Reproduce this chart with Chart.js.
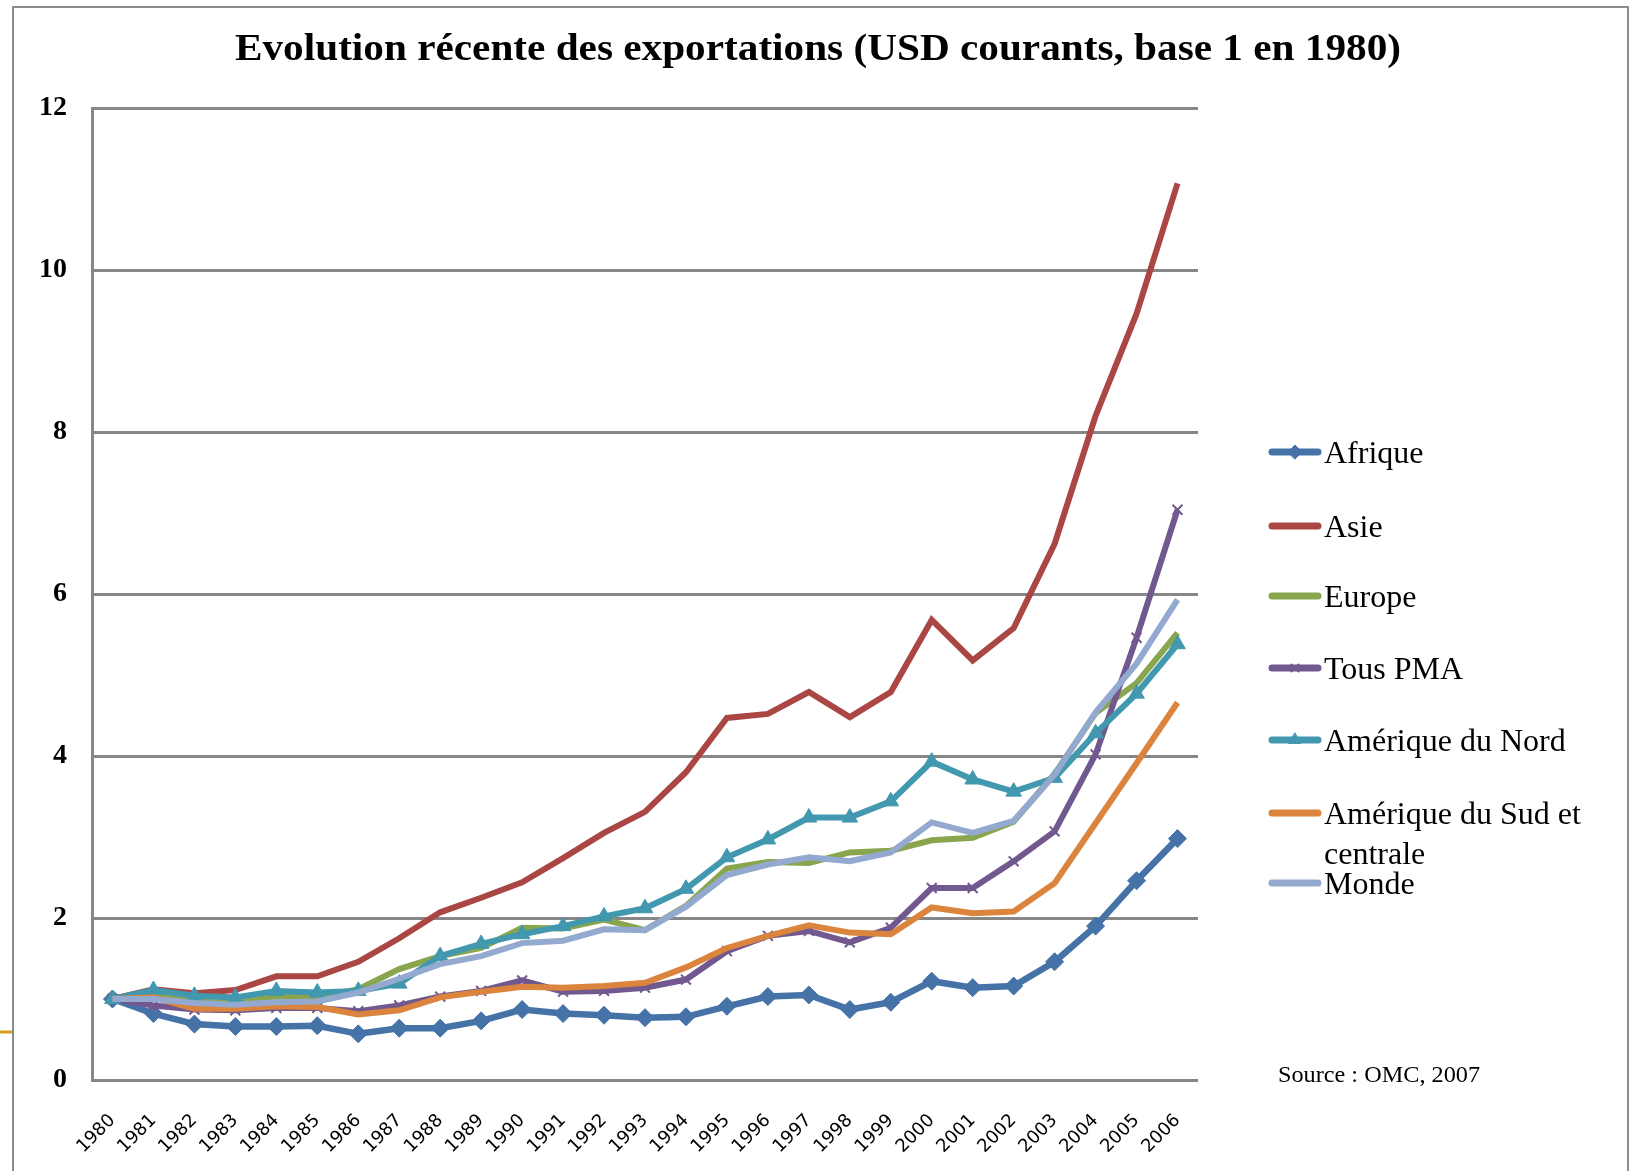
<!DOCTYPE html>
<html>
<head>
<meta charset="utf-8">
<script src="https://cdn.jsdelivr.net/npm/chart.js@4"></script>
<style>
  html, body { margin: 0; padding: 0; background: #fff; }
  #wrap { width: 1631px; height: 1171px; }
</style>
</head>
<body>
<div id="wrap"><canvas id="chart" width="1631" height="1171"></canvas></div>
<script>
// Evolution récente des exportations, base 1 en 1980 (source OMC 2007)
const years = ['1980', '1981', '1982', '1983', '1984', '1985', '1986', '1987', '1988', '1989',
  '1990', '1991', '1992', '1993', '1994', '1995', '1996', '1997', '1998', '1999',
  '2000', '2001', '2002', '2003', '2004', '2005', '2006'];

const afrique = [1.00, 0.82, 0.69, 0.66, 0.66, 0.67, 0.57, 0.64, 0.64, 0.73, 0.87, 0.82, 0.80, 0.77,
  0.78, 0.91, 1.03, 1.05, 0.87, 0.96, 1.22, 1.14, 1.16, 1.46, 1.90, 2.46, 2.98];
const asie = [1.00, 1.12, 1.07, 1.11, 1.28, 1.28, 1.46, 1.75, 2.07, 2.25, 2.44, 2.74, 3.05, 3.31,
  3.80, 4.47, 4.52, 4.79, 4.48, 4.79, 5.68, 5.18, 5.58, 6.62, 8.20, 9.46, 11.07];
const europe = [1.00, 1.05, 0.97, 0.95, 1.03, 1.02, 1.12, 1.37, 1.53, 1.63, 1.88, 1.87, 1.98, 1.85,
  2.15, 2.61, 2.69, 2.68, 2.81, 2.83, 2.96, 2.99, 3.19, 3.78, 4.53, 4.90, 5.52];
const tousPMA = [1.00, 0.92, 0.87, 0.86, 0.89, 0.89, 0.85, 0.92, 1.03, 1.10, 1.23, 1.09, 1.10, 1.14,
  1.24, 1.59, 1.78, 1.84, 1.70, 1.88, 2.37, 2.37, 2.70, 3.07, 4.02, 5.46, 7.04];
const ameriqueNord = [1.00, 1.11, 1.04, 1.02, 1.10, 1.08, 1.10, 1.19, 1.53, 1.68, 1.80, 1.90, 2.02, 2.12,
  2.36, 2.75, 2.97, 3.24, 3.24, 3.44, 3.93, 3.71, 3.56, 3.73, 4.28, 4.77, 5.38];
const ameriqueSud = [1.00, 1.02, 0.88, 0.88, 0.91, 0.90, 0.81, 0.86, 1.02, 1.09, 1.15, 1.14, 1.16, 1.20,
  1.39, 1.63, 1.78, 1.91, 1.82, 1.80, 2.13, 2.06, 2.08, 2.43, 3.17, 3.91, 4.66];
const monde = [1.00, 1.00, 0.95, 0.93, 0.96, 0.97, 1.08, 1.25, 1.43, 1.53, 1.69, 1.72, 1.86, 1.85,
  2.14, 2.53, 2.66, 2.75, 2.70, 2.81, 3.18, 3.05, 3.20, 3.77, 4.54, 5.14, 5.93];

const seriesNames = ['Afrique', 'Asie', 'Europe', 'Tous PMA', 'Amérique du Nord',
  ['Amérique du Sud et', 'centrale'], 'Monde'];
const seriesValues = [afrique, asie, europe, tousPMA, ameriqueNord, ameriqueSud, monde];
const seriesColors = ['#4572A7', '#AA4643', '#89A54E', '#71588F', '#4198AF', '#DB843D', '#93A9CF'];
const seriesMarkers = ['rectRot', false, false, 'crossRot', 'triangle', false, false];

const yTicks = [0, 2, 4, 6, 8, 10, 12];

const titleText = 'Evolution récente des exportations (USD courants, base 1 en 1980)';
const sourceText = 'Source : OMC, 2007';

const SERIF = '"Liberation Serif", "Times New Roman", serif';

// title, frame, legend and source note
const decorations = {
  id: 'decorations',
  beforeDraw(chart) {
    const ctx = chart.ctx;
    ctx.save();
    ctx.strokeStyle = '#8c8c8c';
    ctx.lineWidth = 2;
    ctx.beginPath();
    ctx.moveTo(13, 1171);
    ctx.lineTo(13, 7);
    ctx.lineTo(1628, 7);
    ctx.lineTo(1628, 1171);
    ctx.stroke();
    ctx.strokeStyle = '#D4A017';
    ctx.lineWidth = 3;
    ctx.beginPath();
    ctx.moveTo(0, 1032);
    ctx.lineTo(12, 1032);
    ctx.stroke();
    ctx.restore();
  },
  afterDraw(chart) {
    const ctx = chart.ctx;
    ctx.save();
    // title, squeezed to the width of the original
    ctx.fillStyle = '#000';
    ctx.font = 'bold 38px ' + SERIF;
    ctx.textAlign = 'left';
    ctx.textBaseline = 'alphabetic';
    const w = ctx.measureText(titleText).width;
    ctx.translate(235, 60);
    ctx.scale(1166 / w, 1);
    ctx.fillText(titleText, 0, 0);
    ctx.restore();

    // legend
    ctx.save();
    const legendY = [452, 526, 596, 668, 740, 813, 883];
    ctx.font = '32px ' + SERIF;
    chart.data.datasets.forEach((ds, i) => {
      const y = legendY[i];
      ctx.strokeStyle = ds.borderColor;
      ctx.lineWidth = 7;
      ctx.lineCap = 'round';
      ctx.beginPath();
      ctx.moveTo(1272, y);
      ctx.lineTo(1318, y);
      ctx.stroke();
      if (ds.pointStyle) {
        ctx.fillStyle = ds.borderColor;
        ctx.strokeStyle = ds.borderColor;
        ctx.lineWidth = ds.pointBorderWidth;
        Chart.helpers.drawPoint(ctx, {
          pointStyle: ds.pointStyle,
          radius: ds.pointRadius - 2,
          borderWidth: ds.pointBorderWidth,
          rotation: 0,
        }, 1295, y);
      }
      ctx.fillStyle = '#000';
      const lines = Array.isArray(seriesNames[i]) ? seriesNames[i] : [seriesNames[i]];
      lines.forEach((t, k) => ctx.fillText(t, 1324, y + 11 + k * 40));
    });
    ctx.restore();

    // source note
    ctx.save();
    ctx.font = '24px ' + SERIF;
    ctx.fillStyle = '#000';
    const sw = ctx.measureText(sourceText).width;
    ctx.translate(1278, 1082);
    ctx.scale(202 / sw, 1);
    ctx.fillText(sourceText, 0, 0);
    ctx.restore();
  },
};

const datasets = seriesValues.map((vals, i) => ({
  label: Array.isArray(seriesNames[i]) ? seriesNames[i].join(' ') : seriesNames[i],
  data: vals,
  borderColor: seriesColors[i],
  backgroundColor: seriesColors[i],
  borderWidth: i === 0 ? 6.5 : 6,
  tension: 0,
  pointStyle: seriesMarkers[i],
  pointRadius: seriesMarkers[i] ? (seriesMarkers[i] === 'crossRot' ? 7 : 9) : 0,
  pointBorderWidth: seriesMarkers[i] === 'crossRot' ? 2 : 1,
  pointBackgroundColor: seriesColors[i],
  pointBorderColor: seriesColors[i],
  order: seriesValues.length - i,
}));

new Chart(document.getElementById('chart'), {
  type: 'line',
  data: { labels: years, datasets },
  options: {
    responsive: false,
    animation: false,
    layout: { padding: { top: 108, right: 433, left: 0, bottom: 0 } },
    plugins: {
      legend: { display: false },
      title: { display: false },
      tooltip: { enabled: false },
    },
    scales: {
      x: {
        offset: true,
        grid: { display: false },
        border: { display: false },
        ticks: {
          autoSkip: false,
          minRotation: 45,
          maxRotation: 45,
          padding: 22,
          color: '#000',
          font: { family: '"DejaVu Sans", Verdana, sans-serif', size: 18 },
        },
        afterFit(scale) { scale.height = 91; },
      },
      y: {
        min: 0,
        max: 12,
        afterBuildTicks(scale) { scale.ticks = yTicks.map((v) => ({ value: v })); },
        grid: { color: '#878787', lineWidth: 3, drawTicks: false },
        border: { color: '#878787', width: 3 },
        ticks: {
          padding: 25,
          color: '#000',
          font: { family: SERIF, size: 28, weight: 'bold' },
        },
        afterFit(scale) { scale.width = 92; },
      },
    },
  },
  plugins: [decorations],
});
</script>
</body>
</html>
